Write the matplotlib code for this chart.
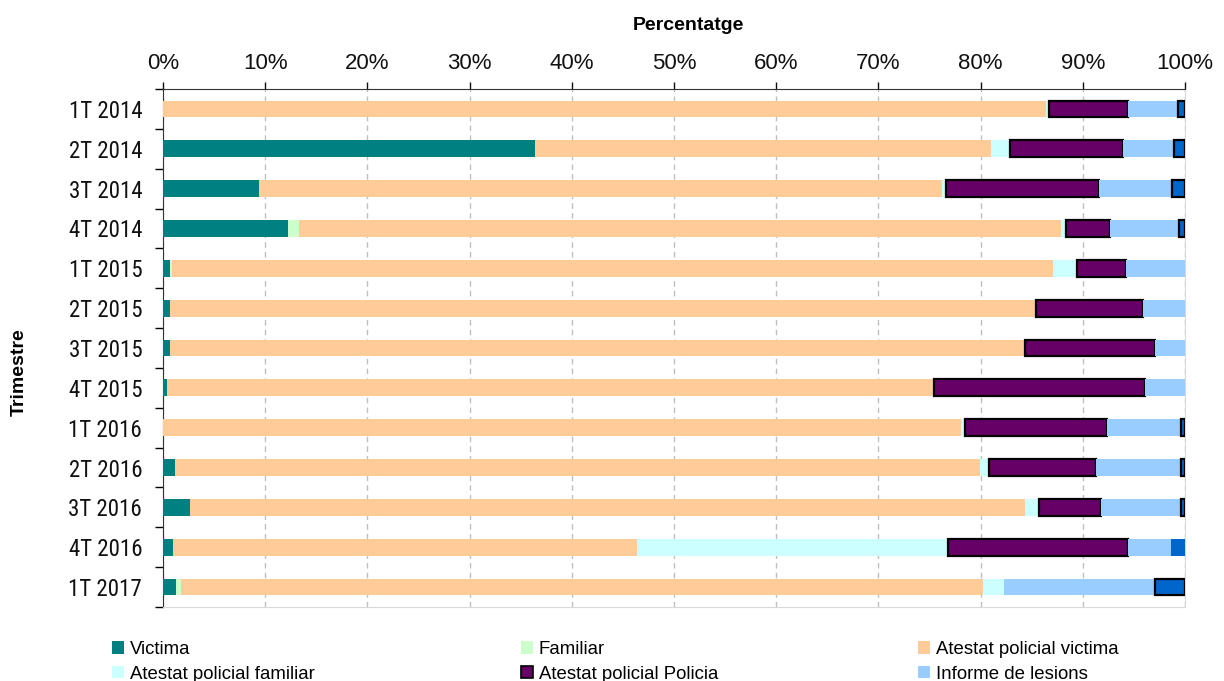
import matplotlib
matplotlib.use("Agg")
import matplotlib.pyplot as plt
from matplotlib.patches import Patch
from matplotlib import font_manager as fm

categories = ['1T 2014', '2T 2014', '3T 2014', '4T 2014', '1T 2015', '2T 2015', '3T 2015',
              '4T 2015', '1T 2016', '2T 2016', '3T 2016', '4T 2016', '1T 2017']
victima = [0, 36.4, 9.4, 12.2, 0.7, 0.7, 0.7, 0.4, 0, 1.2, 2.6, 1.0, 1.3]
familiar = [0, 0, 0, 1.1, 0.2, 0, 0, 0, 0, 0, 0, 0, 0.5]
atestat_victima = [86.4, 44.6, 66.8, 74.6, 86.2, 84.7, 83.6, 75.0, 78.1, 78.7, 81.7, 45.4, 78.4]
atestat_familiar = [0.3, 1.9, 0.4, 0.5, 2.3, 0, 0, 0, 0.4, 0.9, 1.4, 30.4, 2.1]
atestat_policia = [7.7, 11.0, 15.0, 4.3, 4.8, 10.5, 12.8, 20.7, 13.9, 10.5, 6.1, 17.6, 0]
informe_lesions = [4.9, 5.0, 7.1, 6.7, 5.8, 4.1, 2.9, 3.9, 7.2, 8.3, 7.8, 4.2, 14.8]
altres = [0.7, 1.1, 1.3, 0.6, 0, 0, 0, 0, 0.4, 0.4, 0.4, 1.4, 2.9]
xticks = [0, 10, 20, 30, 40, 50, 60, 70, 80, 90, 100]
xticklabels = ['0%', '10%', '20%', '30%', '40%', '50%', '60%', '70%', '80%', '90%', '100%']

names = ['Victima', 'Familiar', 'Atestat policial victima', 'Atestat policial familiar',
         'Atestat policial Policia', 'Informe de lesions', 'Altres']
series = [victima, familiar, atestat_victima, atestat_familiar, atestat_policia,
          informe_lesions, altres]
colors = ['#008080', '#CCFFCC', '#FFCC99', '#CCFFFF', '#660066', '#99CCFF', '#0066CC']
outlined = [False, False, False, False, True, False, True]

avail = {f.name for f in fm.fontManager.ttflist}
narrow = 'Liberation Sans'
for cand in ['Liberation Sans Narrow', 'Arial Narrow', 'Roboto Condensed',
             'Archivo Narrow', 'Open Sans Condensed']:
    if cand in avail:
        narrow = cand
        break
regular = 'Liberation Sans'

fig = plt.figure(figsize=(12.24, 6.81), dpi=100)
ax = fig.add_axes([163 / 1224, 1 - 607 / 681, (1185 - 163) / 1224, (607 - 89) / 681])

ypos = list(range(len(categories)))
left = [0.0] * len(categories)
for name, vals, col, outl in zip(names, series, colors, outlined):
    if outl:
        edges = ['black' if v > 0 else 'none' for v in vals]
        if name == 'Altres':
            edges[categories.index('4T 2016')] = 'none'
        lw = 1.6
    else:
        edges = 'none'
        lw = 0
    ax.barh(ypos, vals, left=left, height=0.42, color=col, edgecolor=edges,
            linewidth=lw, zorder=3)
    left = [l + v for l, v in zip(left, vals)]

ax.set_xlim(0, 100)
ax.set_ylim(12.5, -0.5)
ax.xaxis.tick_top()
ax.set_xticks(xticks)
ax.set_xticklabels(xticklabels, fontsize=16, family=regular, color='#111111')
ax.tick_params(axis='x', direction='out', length=5, width=1, pad=6, colors='#111111')
ax.set_yticks(ypos)
ysize = 16.5 if narrow != 'Liberation Sans' else 14
ax.set_yticklabels(categories, fontsize=ysize, family=narrow, color='#111111')
ax.tick_params(axis='y', which='major', length=0, pad=15)
ax.set_yticks([i - 0.5 for i in range(len(categories) + 1)], minor=True)
ax.tick_params(axis='y', which='minor', length=6, width=1, direction='out')

ax.grid(axis='x', linestyle=(0, (4, 3)), color='#BFBFBF', linewidth=1, zorder=0)
ax.spines['top'].set_color('#333333')
ax.spines['left'].set_color('#333333')
ax.spines['bottom'].set_color('#D9D9D9')
ax.spines['right'].set_color('#D9D9D9')

fig.text(688 / 1224, 1 - 30 / 681, 'Percentatge', fontsize=14, fontweight='bold',
         family=regular, ha='center', va='baseline')
fig.text(19 / 1224, 1 - 372 / 681, 'Trimestre', fontsize=14, fontweight='bold',
         family=regular, ha='center', va='center', rotation=90)

cols = [(112, [0, 3]), (521, [1, 4]), (918, [2, 5])]
for x, idxs in cols:
    handles = [Patch(facecolor=colors[i], edgecolor='black' if outlined[i] else 'none',
                     linewidth=1.2 if outlined[i] else 0) for i in idxs]
    labels = [names[i] for i in idxs]
    fig.legend(handles, labels, loc='upper left', bbox_to_anchor=(x / 1224, 1 - 641 / 681),
               frameon=False, borderpad=0, borderaxespad=0, handlelength=0.65,
               handleheight=0.65, handletextpad=0.3, labelspacing=0.42,
               prop={'family': regular, 'size': 13.4})

fig.savefig('out.png', dpi=100)
